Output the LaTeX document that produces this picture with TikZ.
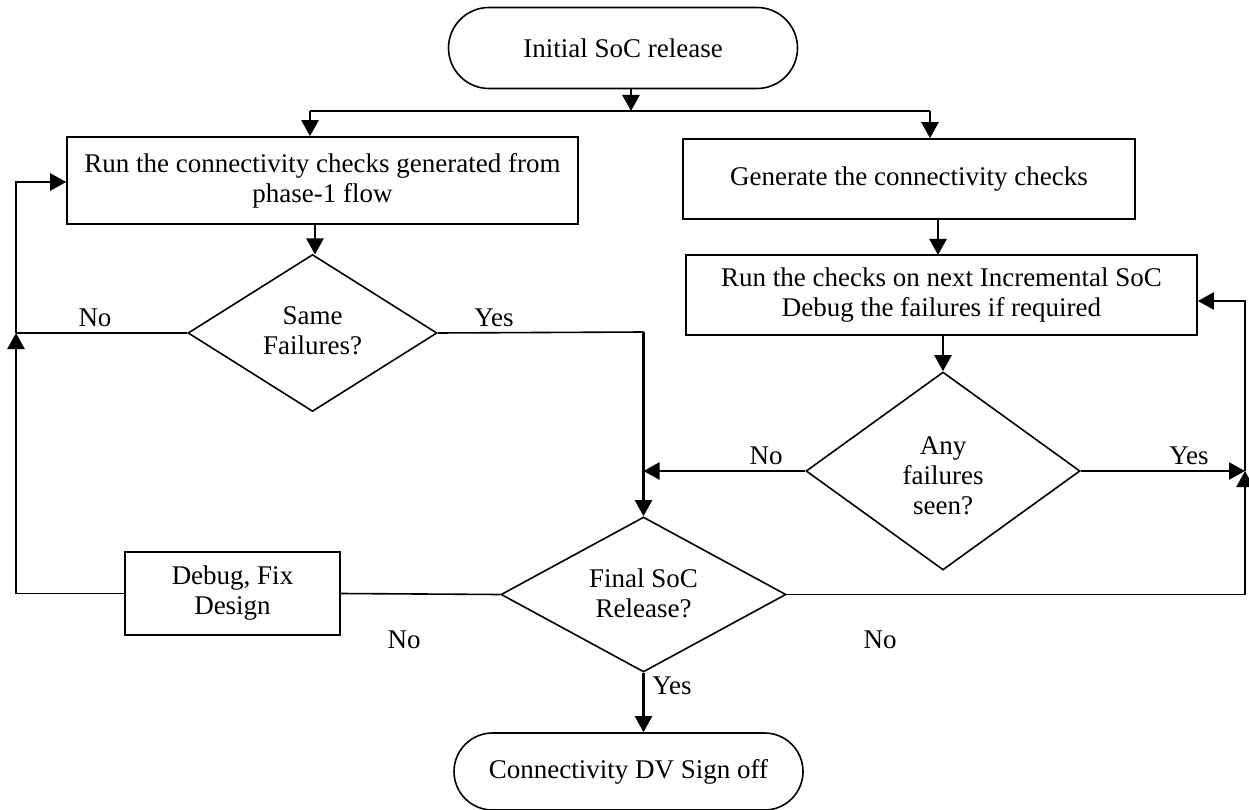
\documentclass[tikz,border=0pt]{standalone}
\usepackage{fontspec}
\setmainfont{Liberation Serif}
\usetikzlibrary{shapes.geometric,shapes.misc,arrows.meta}
\begin{document}
\begin{tikzpicture}[x=1pt,y=-1pt,
  every node/.style={font=\fontsize{27}{30}\selectfont},
  shp/.style={draw=black,line width=1.6pt,align=center,inner sep=0pt},
  boxn/.style={shp,rectangle},
  term/.style={shp,rounded rectangle},
  dec/.style={shp,diamond},
  lbl/.style={inner sep=0pt},
  ln/.style={line width=1.6pt},
  arr/.style={line width=2.4pt,-{Triangle[length=16pt,width=17pt]}}]
\useasboundingbox (0,0) rectangle (1249,810);
% nodes
\node[term,minimum width=349pt,minimum height=81pt] (init) at (623,48) {Initial SoC release};
\node[boxn,minimum width=511pt,minimum height=87pt] (run) at (322.5,180.5) {Run the connectivity checks generated from\\phase-1 flow};
\node[boxn,minimum width=452pt,minimum height=80pt] (gen) at (909,179) {Generate the connectivity checks};
\node[boxn,minimum width=511pt,minimum height=80pt] (incr) at (941.5,295) {Run the checks on next Incremental SoC\\Debug the failures if required};
\node[dec,minimum width=249pt,minimum height=157pt] (same) at (312.5,333) {};
\node[align=center] (sametxt) at (312.5,331) {Same\\Failures?};
\node[dec,minimum width=274pt,minimum height=198pt] (any) at (943,471) {};
\node[align=center] (anytxt) at (943,476) {Any\\failures\\seen?};
\node[dec,minimum width=285pt,minimum height=155pt] (final) at (643.5,594.5) {};
\node[align=center] (finaltxt) at (643.5,593) {Final SoC\\Release?};
\node[boxn,minimum width=215pt,minimum height=83pt] (debug) at (232.5,593.5) {Debug, Fix\\Design};
\node[term,minimum width=349pt,minimum height=77pt] (sign) at (628.5,771.5) {Connectivity DV Sign off};
% coordinates
\coordinate (split) at (631,111);
\coordinate (sl) at (310,111);
\coordinate (sr) at (930,111);
\coordinate (lx) at (16,333);
\coordinate (lb) at (16,593.5);
\coordinate (lt) at (16,182);
\coordinate (yc) at (643.5,332);
\coordinate (rx) at (1245,0);
\coordinate (rt) at (1245,301);
% connectors
\draw[arr] (init.south -| split) -- (split);
\draw[ln] (sl) -- (sr);
\draw[arr] (sl) -- (sl |- run.north);
\draw[arr] (sr) -- (sr |- gen.north);
\draw[arr] (run.south -| 315,0) -- (315,254.5);
\draw[arr] (gen.south -| 938,0) -- (938,255);
\draw[arr] (incr.south -| any.north) -- (any.north);
% Same failures
\draw[ln] (same.west) -- (lx);
\draw[ln] (same.east) -- (yc);
\draw[arr] (yc) -- (final.north);
% left loop
\draw[ln] (final.west) -- (debug.east);
\draw[ln] (debug.west) -- (lb);
\draw[arr] (lb) -- (lx);
\draw[arr] (lx) -- (lt) -- (lt -| run.west);
% any failures
\draw[arr] (any.west) -- (any.west -| final.north);
\draw[arr] (any.east) -- (any.east -| rx);
% right loop
\draw[ln] (final.east) -- (final.east -| rx);
\draw[arr] (final.east -| rx) -- (any.east -| rx);
\draw[arr] (any.east -| rx) -- (rt) -- (rt -| incr.east);
\draw[arr] (final.south) -- (final.south |- sign.north);
% labels
\node[lbl] (l1) at (95,318) {No};
\node[lbl] (l2) at (494,318) {Yes};
\node[lbl] (l3) at (766,456) {No};
\node[lbl] (l4) at (1189,456) {Yes};
\node[lbl] (l5) at (404,640) {No};
\node[lbl] (l6) at (880,640) {No};
\node[lbl] (l7) at (672,686) {Yes};
\end{tikzpicture}
\end{document}
